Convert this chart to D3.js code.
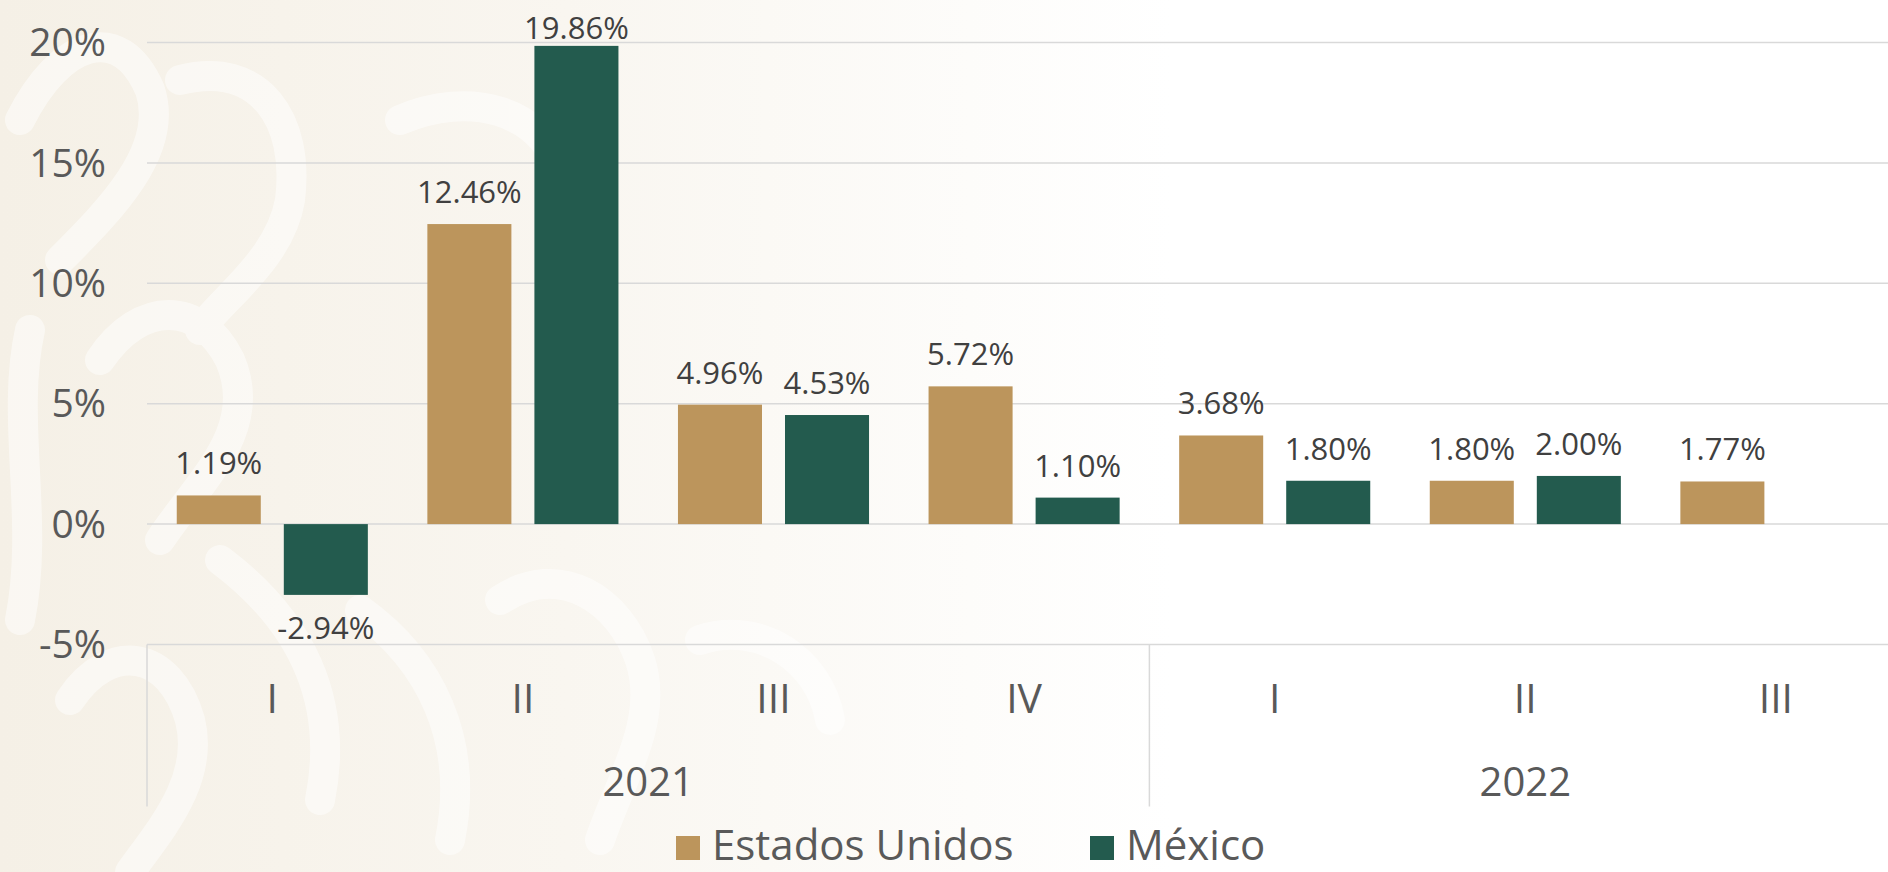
<!DOCTYPE html>
<html>
<head>
<meta charset="utf-8">
<script src="https://cdn.jsdelivr.net/npm/d3@7"></script>
<style>
  html, body { margin: 0; padding: 0; background: #fff; }
  svg { display: block; font-family: "Open Sans", "Noto Sans", sans-serif; }
</style>
</head>
<body>
<div id="chart"></div>
<script>
const width = 1888,
    height = 872
const margin = { top: 43, right: 0, bottom: 227, left: 147 }

// datos
const quarters = ['I', 'II', 'III', 'IV', 'I', 'II', 'III']
const years = ['2021', '2021', '2021', '2021', '2022', '2022', '2022']
const estadosUnidos = [1.19, 12.46, 4.96, 5.72, 3.68, 1.80, 1.77]
const mexico = [-2.94, 19.86, 4.53, 1.10, 1.80, 2.00, null]
const yTicks = [-5, 0, 5, 10, 15, 20]
const seriesNames = ['Estados Unidos', 'México']
const seriesColor = ['#BC955C', '#235B4E']

const keys = quarters.map((q, i) => years[i] + '-' + q)
const rows = keys.map((k, i) => ({ key: k, quarter: quarters[i], year: years[i], values: [estadosUnidos[i], mexico[i]] }))

const fmt = d3.formatLocale({ decimal: '.', thousands: ',', grouping: [3], currency: ['$', ''], minus: '-' }).format('.2f')

const svg = d3.select('#chart')
    .append('svg')
    .attr('width', width)
    .attr('height', height)

/**
 * fondo
 */
const defs = svg.append('defs')
const grad = defs.append('linearGradient').attr('id', 'bg').attr('x1', 0).attr('x2', 1).attr('y1', 0).attr('y2', 0)
grad.append('stop').attr('offset', 0).attr('stop-color', '#F5F0E6')
grad.append('stop').attr('offset', 0.3).attr('stop-color', '#F9F6F0')
grad.append('stop').attr('offset', 0.62).attr('stop-color', '#FFFFFF')
svg.append('rect').attr('width', width).attr('height', height).attr('fill', 'url(#bg)')

// trazos decorativos del fondo
const deco = svg.append('g')
    .attr('fill', 'none')
    .attr('stroke', '#fff')
    .attr('stroke-linecap', 'round')
    .attr('opacity', 0.5)
const decoPaths = [
    'M20,120 C60,40 120,20 150,90 C170,150 110,210 60,260',
    'M30,330 C10,420 40,520 20,620',
    'M100,360 C140,300 200,300 230,360 C260,430 200,480 160,540',
    'M70,700 C110,640 170,650 190,720 C205,780 160,830 130,872',
    'M220,560 C300,620 340,700 320,800',
    'M360,610 C430,660 470,740 450,840',
    'M180,80 C260,60 300,120 290,200 C280,260 220,300 200,330',
    'M400,120 C470,90 540,110 560,170',
    'M500,600 C560,560 620,600 640,660 C660,720 620,780 600,840',
    'M700,640 C760,620 820,660 830,720'
]
deco.selectAll('path').data(decoPaths).enter().append('path')
    .attr('d', d => d)
    .attr('stroke-width', 30)

/**
 * escalas
 */
const x0 = d3.scaleBand()
    .domain(keys)
    .range([margin.left, margin.left + 7 * 250.6])
    .padding(0)

const x1 = d3.scaleBand()
    .domain([0, 1])
    .range([0, x0.bandwidth()])
    .paddingInner(0.215)
    .paddingOuter(0.278)

const y = d3.scaleLinear()
    .domain([-5, 20])
    .range([height - margin.bottom - 0.5, margin.top - 0.5])

// cuadrícula
svg.append('g')
    .selectAll('line')
    .data(yTicks)
    .enter().append('line')
    .attr('x1', margin.left)
    .attr('x2', width)
    .attr('y1', d => y(d))
    .attr('y2', d => y(d))
    .attr('stroke', '#D9D9D9')
    .attr('stroke-width', 1.5)

// eje Y
const axisY = svg.append('g')
    .attr('transform', 'translate(' + (margin.left - 41) + ',0)')
    .call(d3.axisLeft(y).tickValues(yTicks).tickSize(0).tickPadding(0).tickFormat(d => d + '%'))
axisY.select('.domain').remove()
axisY.selectAll('text')
    .attr('fill', '#595959')
    .attr('font-size', 39)
    .attr('font-family', '"Open Sans", "Noto Sans", sans-serif')
    .attr('dy', '0.34em')

/**
 * barras
 */
const groups = svg.append('g')
    .selectAll('g')
    .data(rows)
    .enter().append('g')
    .attr('transform', d => 'translate(' + x0(d.key) + ',0)')

const bars = groups.selectAll('rect')
    .data(d => d.values.map((v, i) => ({ i: i, v: v })).filter(e => e.v !== null))
    .enter()

bars.append('rect')
    .attr('x', d => x1(d.i))
    .attr('width', x1.bandwidth())
    .attr('y', d => y(Math.max(0, d.v)))
    .attr('height', d => Math.abs(y(d.v) - y(0)))
    .attr('fill', d => seriesColor[d.i])

// etiquetas de datos
bars.append('text')
    .attr('x', d => x1(d.i) + x1.bandwidth() / 2)
    .attr('y', d => d.v >= 0 ? Math.max(y(d.v) - 21, 39) : y(d.v) + 44)
    .attr('text-anchor', 'middle')
    .attr('fill', '#404040')
    .attr('font-size', 31)
    .text(d => fmt(d.v) + '%')

/**
 * eje de categorías
 */
const axisTop = y(-5)
const catAxis = svg.append('g')

catAxis.selectAll('text.q')
    .data(rows)
    .enter().append('text')
    .attr('class', 'q')
    .attr('x', d => x0(d.key) + x0.bandwidth() / 2)
    .attr('y', axisTop + 68)
    .attr('text-anchor', 'middle')
    .attr('fill', '#595959')
    .attr('font-size', 41)
    .text(d => d.quarter)

const yearGroups = d3.groups(rows, d => d.year).map(([yr, r]) => ({
    year: yr,
    x0: x0(r[0].key),
    x1: x0(r[r.length - 1].key) + x0.bandwidth()
}))

catAxis.selectAll('line.sep')
    .data(yearGroups)
    .enter().append('line')
    .attr('class', 'sep')
    .attr('x1', d => d.x0)
    .attr('x2', d => d.x0)
    .attr('y1', axisTop)
    .attr('y2', axisTop + 162)
    .attr('stroke', '#D9D9D9')
    .attr('stroke-width', 1.5)

catAxis.selectAll('text.yr')
    .data(yearGroups)
    .enter().append('text')
    .attr('class', 'yr')
    .attr('x', d => (d.x0 + d.x1) / 2)
    .attr('y', axisTop + 151)
    .attr('text-anchor', 'middle')
    .attr('fill', '#595959')
    .attr('font-size', 40)
    .text(d => d.year)

/**
 * leyenda
 */
const legendX = [676, 1090]
const legend = svg.append('g')
    .selectAll('g')
    .data(seriesNames)
    .enter().append('g')
    .attr('transform', (d, i) => 'translate(' + legendX[i] + ',836)')

legend.append('rect')
    .attr('width', 24)
    .attr('height', 24)
    .attr('fill', (d, i) => seriesColor[i])

legend.append('text')
    .attr('x', 36)
    .attr('y', 24)
    .attr('fill', '#595959')
    .attr('font-size', 42)
    .text(d => d)
</script>
</body>
</html>
